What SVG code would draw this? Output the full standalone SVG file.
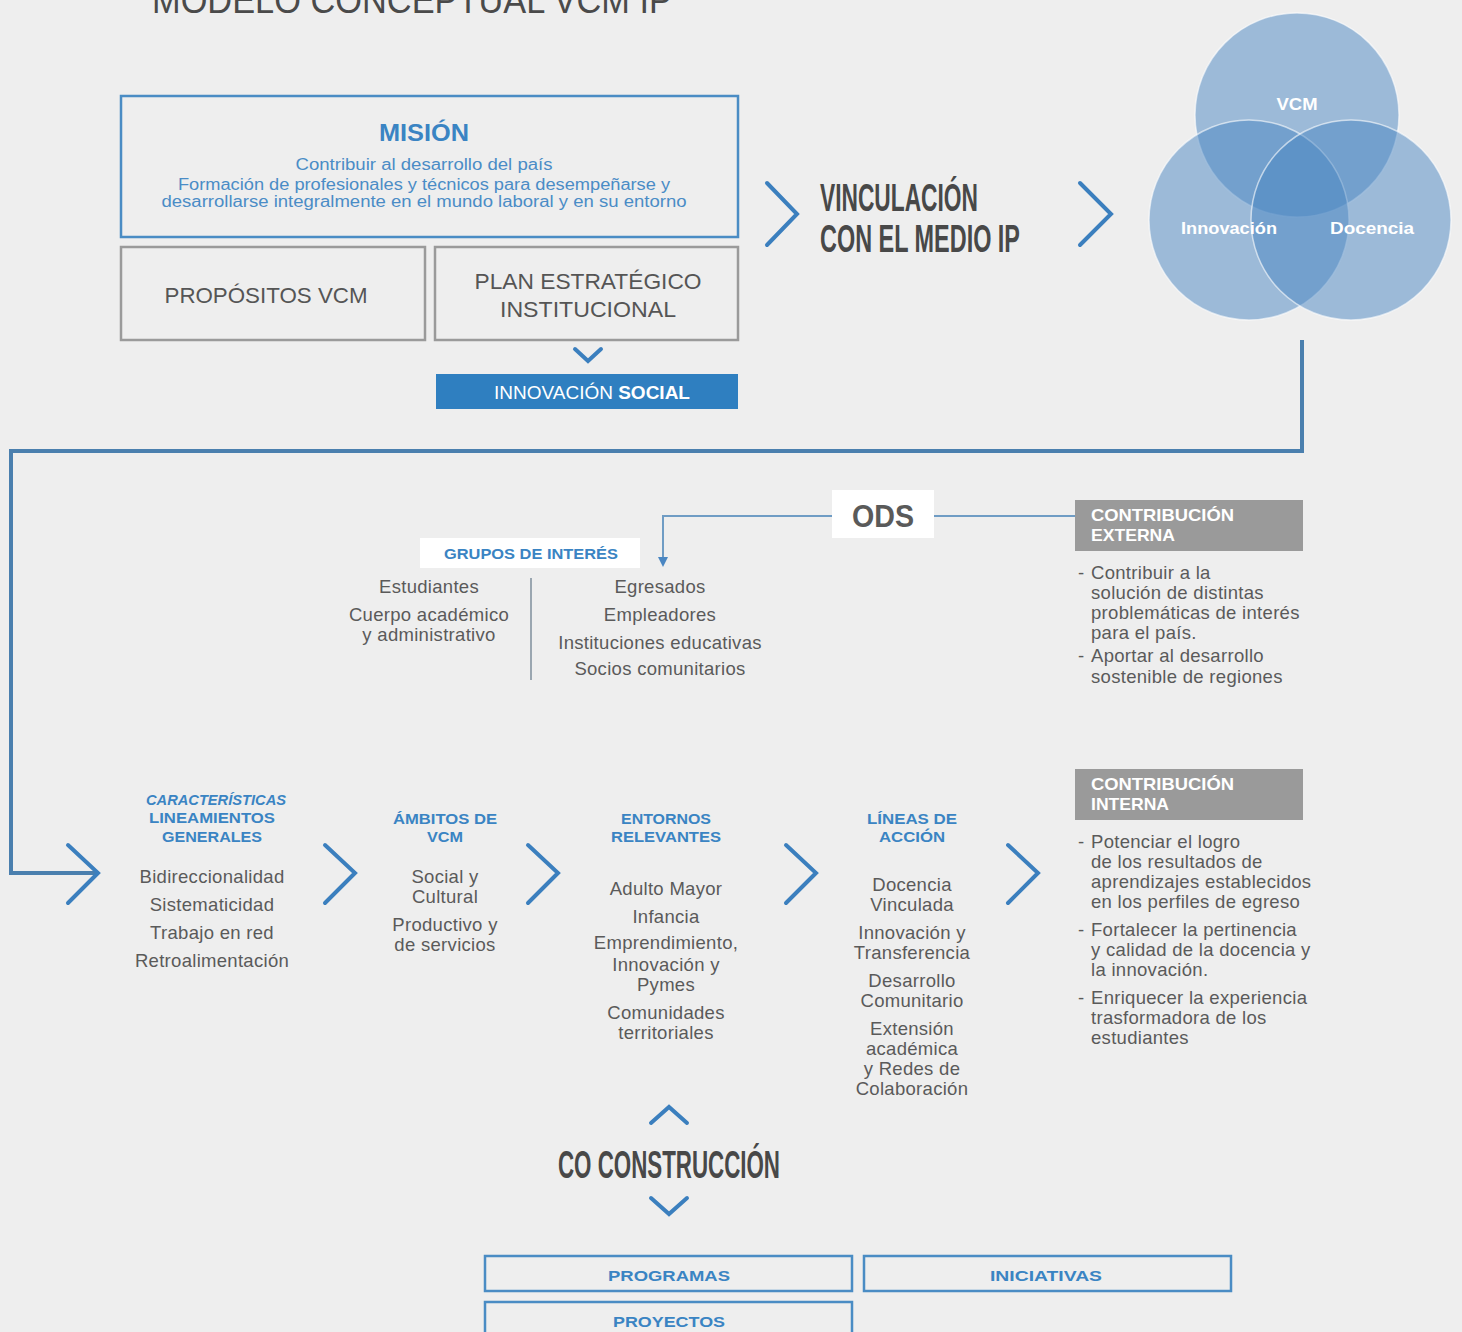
<svg xmlns="http://www.w3.org/2000/svg" width="1462" height="1332" viewBox="0 0 1462 1332">
<defs>
<style>
text{font-family:"Liberation Sans",Arial,sans-serif}
.g{fill:#5a5a5a;font-size:18.5px;letter-spacing:0.3px;text-anchor:middle}
.gl{fill:#5a5a5a;font-size:18.5px;letter-spacing:0.3px}
.bh{fill:#3a84c3;font-size:15px;font-weight:bold;text-anchor:middle}
.dk{fill:#484848;text-anchor:start}
.chev{fill:none;stroke:#3b7fbe;stroke-width:4;stroke-linecap:round;stroke-linejoin:miter}
.bbox{fill:none;stroke:#4a8cc4;stroke-width:2.5}
.gbox{fill:none;stroke:#9a9a9a;stroke-width:2.5}
.gray{fill:#9a9a9a}
.wt{fill:#ffffff;font-weight:bold;font-size:17px}
.circ{fill:#4a86c2;fill-opacity:0.5;stroke:#ffffff;stroke-opacity:0.6;stroke-width:1.5}
.vl{fill:#ffffff;font-weight:bold;font-size:17px;text-anchor:middle}
</style>
<marker id="ah" markerWidth="10" markerHeight="10" refX="5" refY="5" orient="auto" markerUnits="userSpaceOnUse">
<path d="M0,0 L10,5 L0,10 Z" fill="#4a86c2"/>
</marker>
</defs>
<rect width="1462" height="1332" fill="#eeeeee"/>

<g id="title">
<text x="152" y="13" font-size="36" fill="#4a4a4a" textLength="520" lengthAdjust="spacingAndGlyphs">MODELO CONCEPTUAL VCM IP</text>
</g>

<g id="mision">
<rect class="bbox" x="121" y="96" width="617" height="141"/>
<text x="424" y="141" font-size="24" font-weight="bold" fill="#3a84c3" text-anchor="middle" textLength="90" lengthAdjust="spacingAndGlyphs">MISIÓN</text>
<text x="424" y="170" font-size="16" fill="#4a8cc6" text-anchor="middle" textLength="257" lengthAdjust="spacingAndGlyphs">Contribuir al desarrollo del país</text>
<text x="424" y="190" font-size="16" fill="#4a8cc6" text-anchor="middle" textLength="492" lengthAdjust="spacingAndGlyphs">Formación de profesionales y técnicos para desempeñarse y</text>
<text x="424" y="207" font-size="16" fill="#4a8cc6" text-anchor="middle" textLength="525" lengthAdjust="spacingAndGlyphs">desarrollarse integralmente en el mundo laboral y en su entorno</text>
</g>

<g id="propositos">
<rect class="gbox" x="121" y="247" width="304" height="93"/>
<text x="266" y="303" font-size="22" fill="#555" text-anchor="middle" textLength="203" lengthAdjust="spacingAndGlyphs">PROPÓSITOS VCM</text>
</g>

<g id="plan">
<rect class="gbox" x="435" y="247" width="303" height="93"/>
<text x="588" y="289" font-size="22" fill="#555" text-anchor="middle" textLength="227" lengthAdjust="spacingAndGlyphs">PLAN ESTRATÉGICO</text>
<text x="588" y="317" font-size="22" fill="#555" text-anchor="middle" textLength="176" lengthAdjust="spacingAndGlyphs">INSTITUCIONAL</text>
</g>

<g id="innovacion-social">
<rect x="436" y="374" width="302" height="35" fill="#2f7fc0"/>
<text x="592" y="399" font-size="18" fill="#ffffff" text-anchor="middle" textLength="196" lengthAdjust="spacingAndGlyphs"><tspan>INNOVACIÓN </tspan><tspan font-weight="bold">SOCIAL</tspan></text>
</g>

<g id="vinculacion">
<text class="dk" x="820" y="211" font-size="38" font-weight="bold" textLength="158" lengthAdjust="spacingAndGlyphs">VINCULACIÓN</text>
<text class="dk" x="820" y="252" font-size="38" font-weight="bold" textLength="200" lengthAdjust="spacingAndGlyphs">CON EL MEDIO IP</text>
</g>

<g id="venn">
<circle class="circ" cx="1297" cy="115" r="102"/>
<circle class="circ" cx="1249" cy="220" r="100"/>
<circle class="circ" cx="1351" cy="220" r="100"/>
<text class="vl" x="1297" y="110" textLength="41" lengthAdjust="spacingAndGlyphs">VCM</text>
<text class="vl" x="1229" y="234" textLength="96" lengthAdjust="spacingAndGlyphs">Innovación</text>
<text class="vl" x="1372" y="234" textLength="84" lengthAdjust="spacingAndGlyphs">Docencia</text>
</g>

<g id="ods">
<rect x="832" y="490" width="102" height="48" fill="#ffffff"/>
<text x="883" y="527" font-size="32" font-weight="bold" fill="#5a5a5a" text-anchor="middle" textLength="62" lengthAdjust="spacingAndGlyphs">ODS</text>
</g>

<g id="grupos">
<rect x="420" y="538" width="220" height="30" fill="#ffffff"/>
<text class="bh" x="531" y="559" font-size="16" textLength="174" lengthAdjust="spacingAndGlyphs">GRUPOS DE INTERÉS</text>
<line x1="531" y1="578" x2="531" y2="680" stroke="#9aa6b0" stroke-width="2"/>
<text class="g" x="429" y="593">Estudiantes</text>
<text class="g" x="429" y="621">Cuerpo académico</text>
<text class="g" x="429" y="641">y administrativo</text>
<text class="g" x="660" y="593">Egresados</text>
<text class="g" x="660" y="621">Empleadores</text>
<text class="g" x="660" y="649">Instituciones educativas</text>
<text class="g" x="660" y="675">Socios comunitarios</text>
</g>

<g id="contribucion-externa">
<rect class="gray" x="1075" y="500" width="228" height="51"/>
<text class="wt" x="1091" y="521" textLength="143" lengthAdjust="spacingAndGlyphs">CONTRIBUCIÓN</text>
<text class="wt" x="1091" y="541" textLength="84" lengthAdjust="spacingAndGlyphs">EXTERNA</text>
<text class="gl" x="1078" y="579">-</text>
<text class="gl" x="1091" y="579">Contribuir a la</text>
<text class="gl" x="1091" y="599">solución de distintas</text>
<text class="gl" x="1091" y="619">problemáticas de interés</text>
<text class="gl" x="1091" y="639">para el país.</text>
<text class="gl" x="1078" y="662">-</text>
<text class="gl" x="1091" y="662">Aportar al desarrollo</text>
<text class="gl" x="1091" y="683">sostenible  de regiones</text>
</g>

<g id="contribucion-interna">
<rect class="gray" x="1075" y="769" width="228" height="51"/>
<text class="wt" x="1091" y="790" textLength="143" lengthAdjust="spacingAndGlyphs">CONTRIBUCIÓN</text>
<text class="wt" x="1091" y="810" textLength="78" lengthAdjust="spacingAndGlyphs">INTERNA</text>
<text class="gl" x="1078" y="848">-</text>
<text class="gl" x="1091" y="848">Potenciar el logro</text>
<text class="gl" x="1091" y="868">de los resultados de</text>
<text class="gl" x="1091" y="888">aprendizajes establecidos</text>
<text class="gl" x="1091" y="908">en los perfiles de egreso</text>
<text class="gl" x="1078" y="936">-</text>
<text class="gl" x="1091" y="936">Fortalecer la pertinencia</text>
<text class="gl" x="1091" y="956">y calidad de la docencia y</text>
<text class="gl" x="1091" y="976">la innovación.</text>
<text class="gl" x="1078" y="1004">-</text>
<text class="gl" x="1091" y="1004">Enriquecer la experiencia</text>
<text class="gl" x="1091" y="1024">trasformadora de los</text>
<text class="gl" x="1091" y="1044">estudiantes</text>
</g>

<g id="caracteristicas">
<text class="bh" x="216" y="805" font-style="italic" font-size="14" textLength="140" lengthAdjust="spacingAndGlyphs">CARACTERÍSTICAS</text>
<text class="bh" x="212" y="823" textLength="126" lengthAdjust="spacingAndGlyphs">LINEAMIENTOS</text>
<text class="bh" x="212" y="842" textLength="100" lengthAdjust="spacingAndGlyphs">GENERALES</text>
<text class="g" x="212" y="883">Bidireccionalidad</text>
<text class="g" x="212" y="911">Sistematicidad</text>
<text class="g" x="212" y="939">Trabajo en red</text>
<text class="g" x="212" y="967">Retroalimentación</text>
</g>

<g id="ambitos">
<text class="bh" x="445" y="824" textLength="104" lengthAdjust="spacingAndGlyphs">ÁMBITOS DE</text>
<text class="bh" x="445" y="842" textLength="36" lengthAdjust="spacingAndGlyphs">VCM</text>
<text class="g" x="445" y="883">Social y</text>
<text class="g" x="445" y="903">Cultural</text>
<text class="g" x="445" y="931">Productivo y</text>
<text class="g" x="445" y="951">de servicios</text>
</g>

<g id="entornos">
<text class="bh" x="666" y="824" textLength="90" lengthAdjust="spacingAndGlyphs">ENTORNOS</text>
<text class="bh" x="666" y="842" textLength="110" lengthAdjust="spacingAndGlyphs">RELEVANTES</text>
<text class="g" x="666" y="895">Adulto Mayor</text>
<text class="g" x="666" y="923">Infancia</text>
<text class="g" x="666" y="949">Emprendimiento,</text>
<text class="g" x="666" y="971">Innovación y</text>
<text class="g" x="666" y="991">Pymes</text>
<text class="g" x="666" y="1019">Comunidades</text>
<text class="g" x="666" y="1039">territoriales</text>
</g>

<g id="lineas">
<text class="bh" x="912" y="824" textLength="90" lengthAdjust="spacingAndGlyphs">LÍNEAS DE</text>
<text class="bh" x="912" y="842" textLength="66" lengthAdjust="spacingAndGlyphs">ACCIÓN</text>
<text class="g" x="912" y="891">Docencia</text>
<text class="g" x="912" y="911">Vinculada</text>
<text class="g" x="912" y="939">Innovación y</text>
<text class="g" x="912" y="959">Transferencia</text>
<text class="g" x="912" y="987">Desarrollo</text>
<text class="g" x="912" y="1007">Comunitario</text>
<text class="g" x="912" y="1035">Extensión</text>
<text class="g" x="912" y="1055">académica</text>
<text class="g" x="912" y="1075">y Redes de</text>
<text class="g" x="912" y="1095">Colaboración</text>
</g>

<g id="co-construccion">
<text class="dk" x="669" y="1178" font-size="38" font-weight="bold" style="text-anchor:middle" textLength="222" lengthAdjust="spacingAndGlyphs">CO CONSTRUCCIÓN</text>
</g>

<g id="programas">
<rect class="bbox" x="485" y="1256" width="367" height="35"/>
<text class="bh" x="669" y="1281" font-size="18" textLength="122" lengthAdjust="spacingAndGlyphs">PROGRAMAS</text>
</g>
<g id="iniciativas">
<rect class="bbox" x="864" y="1256" width="367" height="35"/>
<text class="bh" x="1046" y="1281" font-size="18" textLength="112" lengthAdjust="spacingAndGlyphs">INICIATIVAS</text>
</g>
<g id="proyectos">
<rect class="bbox" x="485" y="1302" width="367" height="35"/>
<text class="bh" x="669" y="1327" font-size="18" textLength="112" lengthAdjust="spacingAndGlyphs">PROYECTOS</text>
</g>

<g id="connectors">
<path d="M1302,340 V451 H11 V873 H98" fill="none" stroke="#4a7fae" stroke-width="4"/>
<path class="chev" d="M68,845 L98,873 L68,903"/>
<path d="M832,516 H663 V562" fill="none" stroke="#6f9cc4" stroke-width="2" marker-end="url(#ah)"/>
<line x1="934" y1="516" x2="1075" y2="516" stroke="#6f9cc4" stroke-width="2"/>
<path class="chev" d="M575,349 L588,361 L601,349"/>
<path class="chev" d="M767,183 L797,214 L767,245"/>
<path class="chev" d="M1080,183 L1111,214 L1080,245"/>
<path class="chev" d="M325,845 L355,873 L325,903"/>
<path class="chev" d="M528,845 L558,873 L528,903"/>
<path class="chev" d="M786,845 L816,873 L786,903"/>
<path class="chev" d="M1008,845 L1038,873 L1008,903"/>
<path class="chev" d="M651,1123 L669,1107 L687,1123"/>
<path class="chev" d="M651,1198 L669,1214 L687,1198"/>
</g>
</svg>
